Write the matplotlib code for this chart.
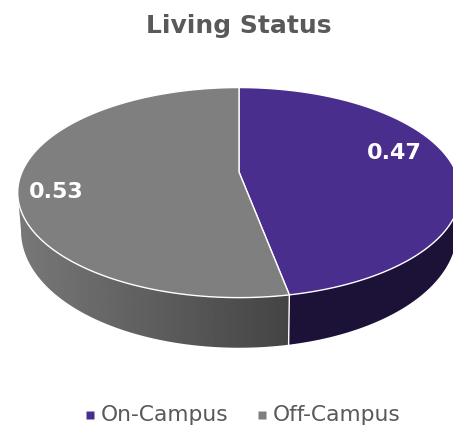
import numpy as np
import matplotlib
matplotlib.use('Agg')
import matplotlib.pyplot as plt
from matplotlib.patches import Polygon

title = 'Living Status'
labels = ['On-Campus', 'Off-Campus']
values = [0.47, 0.53]
colors = ['#4a2e8e', '#7f7f7f']
side_color = '#1c1238'

W, H = 453, 428
fig = plt.figure(figsize=(W/100, H/100), dpi=100)
ax = fig.add_axes([0, 0, 1, 1])
ax.set_xlim(0, W)
ax.set_ylim(H, 0)
ax.axis('off')

# 3d look: circle -> projective map, far side of the pie gets smaller
x0, y0 = 239, 172
A, B, k = 217, 101, 0.196
depth_mid, depth_tilt = 35, 17
shrink = 0.985

def project(th, bottom=False):
   u = np.sin(th)
   v = np.cos(th)
   w = 1 + k*v
   if bottom:  # bottom rim is smaller, wall gets taller towards the viewer
      return x0 + shrink*A*u/w, y0 + depth_mid - depth_tilt*v - shrink*B*v/w
   return x0 + A*u/w, y0 - B*v/w

fr = np.cumsum([0]+values)*2*np.pi

def side_poly(t0, t1):
   th = np.linspace(t0, t1, 200)
   xt, yt = project(th)
   xb, yb = project(th, bottom=True)
   return np.r_[xt, xb[::-1]], np.r_[yt, yb[::-1]]

# Side wall, only the front half shows (below the widest points)
t_right = np.pi/2 + np.arcsin(k)
t_left = 3*np.pi/2 - np.arcsin(k)

xs, ys = side_poly(t_right, fr[1])
ax.add_patch(Polygon(np.c_[xs, ys], closed=True, fc=side_color, ec='none', zorder=1))

# gray side with gradient, lighter on the left
xs, ys = side_poly(fr[1], t_left)
clip = Polygon(np.c_[xs, ys], closed=True, fc='none', ec='none', transform=ax.transData)
ax.add_patch(clip)
grad = np.linspace(0x78, 0x44, 256).reshape(1, -1)
im = ax.imshow(grad, extent=[xs.min(), xs.max(), ys.max(), ys.min()], cmap='gray',
               vmin=0, vmax=255, aspect='auto', zorder=1)
im.set_clip_path(clip)
ax.set_xlim(0, W)
ax.set_ylim(H, 0)

# white seam between the two side walls
xa, ya = project(fr[1])
xb, yb = project(fr[1], bottom=True)
ax.plot([xa, xb], [ya, yb], color='white', lw=1, zorder=2)

# Top face slices
for i in range(len(values)):
   th = np.linspace(fr[i], fr[i+1], 300)
   xt, yt = project(th)
   pts = np.r_[[[x0, y0]], np.c_[xt, yt]]
   ax.add_patch(Polygon(pts, closed=True, fc=colors[i], ec='white', lw=1, zorder=3,
                        joinstyle='round'))

# Data labels
lab_pos = [(394, 153), (56, 192)]
for v, p in zip(values, lab_pos):
   ax.text(p[0], p[1], f'{v:.2f}', color='white', fontsize=16, fontweight='bold',
           ha='center', va='center', zorder=4)

ax.text(239, 26, title, color='#595959', fontsize=18, fontweight='bold',
        ha='center', va='center')

# Legend
leg_marker_x = [90, 262]
leg_text_x = [101, 273]
for name, c, mx, tx in zip(labels, colors, leg_marker_x, leg_text_x):
   ax.plot([mx], [415], marker='s', ms=5.5, color=c, mec='none', ls='none')
   ax.text(tx, 415, name, color='#595959', fontsize=15.7, ha='left', va='center')

fig.savefig('out.png', dpi=100)
